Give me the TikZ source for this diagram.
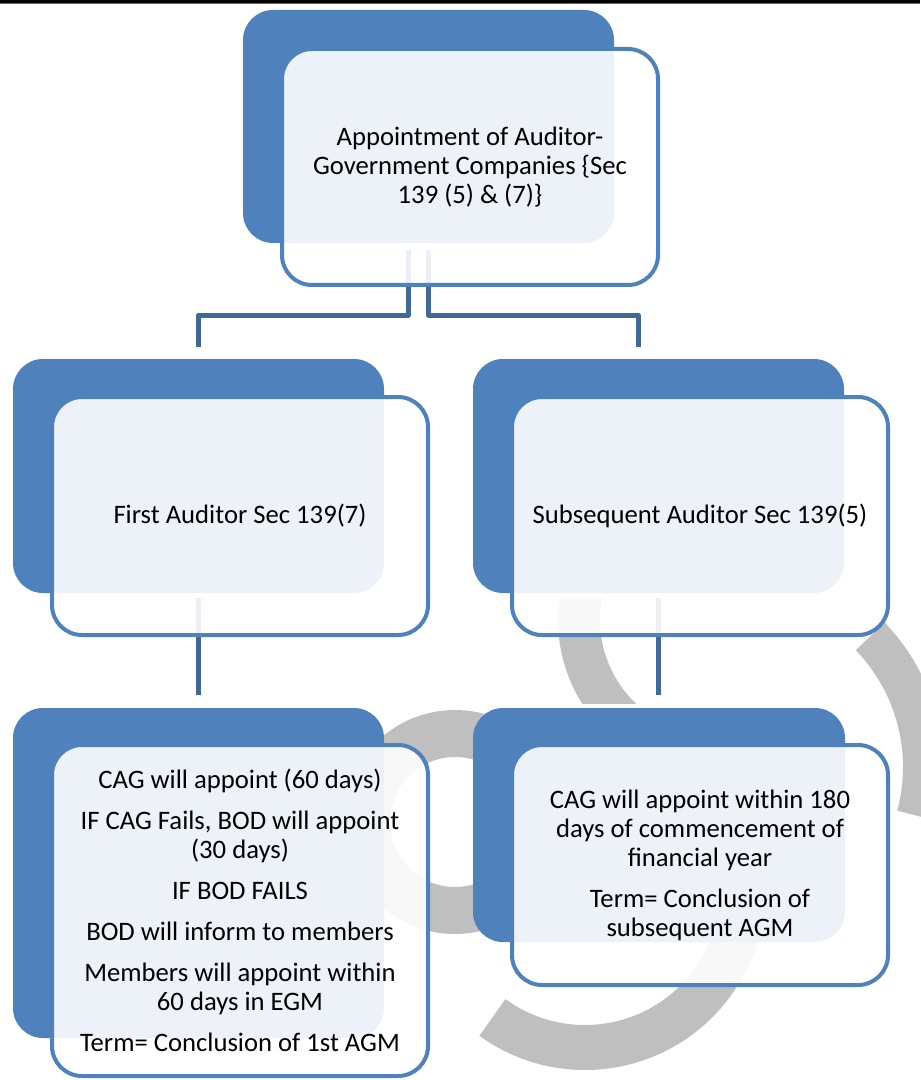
\documentclass[tikz,border=0pt]{standalone}
\usepackage{fontspec}
\setmainfont{Carlito}
\definecolor{accent}{HTML}{4F81BD}
\definecolor{connblue}{HTML}{41689A}
\definecolor{wmgray}{HTML}{BFBFBF}
\begin{document}
\begin{tikzpicture}[x=0.75pt,y=-0.75pt,
  backbox/.style={rectangle, rounded corners=22.5pt, fill=accent,
    inner sep=0pt, outer sep=0pt},
  frontbox/.style={rectangle, rounded corners=22.5pt, draw=accent,
    line width=3pt, fill=white, fill opacity=0.9, text opacity=1,
    inner sep=0pt, outer sep=0pt, align=center,
    font=\fontsize{20}{21.75}\selectfont},
  conn/.style={draw=connblue, line width=3.75pt, line join=round},
  wmband/.style={draw=wmgray, line width=#1}]

\useasboundingbox (0,0) rectangle (920,1080);
\fill[white] (0,0) rectangle (920,1080);

% page rule at the top
\fill[black] (0,0) rectangle (920,3.3);
\fill[black!60] (0,3.3) rectangle (920,4.3);

% grey watermark bands
\begin{scope}
  \clip (0,598) rectangle (920,703);
  \draw[wmband=31.5pt] (715,620) ++(130:136) arc[start angle=130,end angle=200,radius=136];
\end{scope}
\draw[wmband=30pt] (735,767) ++(-44:188) arc[start angle=-44,end angle=15,radius=188];
\draw[wmband=33.75pt] (585,890) ++(126:157.5) arc[start angle=126,end angle=-10,radius=157.5];
\draw[wmband=35.25pt] (455,822) circle[radius=88.5];

% back panels
\node[backbox, minimum width=278.25pt, minimum height=174.75pt] (topback) at (428.5,126.5) {};
\node[backbox, minimum width=278.25pt, minimum height=175.5pt] (midlback) at (198.5,476) {};
\node[backbox, minimum width=278.25pt, minimum height=175.5pt] (midrback) at (658.5,476) {};
\node[backbox, minimum width=278.25pt, minimum height=247.5pt] (botlback) at (198.5,873) {};
\node[backbox, minimum width=279pt, minimum height=175.5pt] (botrback) at (659,825) {};

% connectors
\draw[conn] ([xshift=-15.375pt,yshift=-5.25pt]topback.south) -- ++(0,65)
  -| ([yshift=9pt]midlback.north);
\draw[conn] ([yshift=-5.25pt]topback.south) -- ++(0,65)
  -| ([xshift=-15.375pt,yshift=9pt]midrback.north);
\draw[conn] ([yshift=-3.75pt]midlback.south) -- ([yshift=9.75pt]midlback.south |- botlback.north);
\draw[conn] ([yshift=-3.75pt]midrback.south) -- ([yshift=9.75pt]midrback.south |- botrback.north);

% front panels with text
\node[frontbox, minimum width=282pt, minimum height=177pt] (topfront) at (470,167)
  {Appointment of Auditor-\\Government Companies \{Sec\\139 (5) \& (7)\}};
\node[frontbox, minimum width=282pt, minimum height=178.5pt] (midlfront) at (240,516)
  {First Auditor Sec 139(7)};
\node[frontbox, minimum width=282pt, minimum height=178.5pt] (midrfront) at (700,516)
  {Subsequent Auditor Sec 139(5)};
\node[frontbox, minimum width=282pt, minimum height=248.25pt] (botlfront) at (240,910.5)
  {CAG will appoint (60 days)\\[9pt]
   IF CAG Fails, BOD will appoint\\(30 days)\\[9pt]
   IF BOD FAILS\\[9pt]
   BOD will inform to members\\[9pt]
   Members will appoint within\\60 days in EGM\\[9pt]
   Term= Conclusion of 1st AGM};
\node[frontbox, minimum width=282pt, minimum height=180pt] (botrfront) at (700,865)
  {CAG will appoint within 180\\days of commencement of\\financial year\\[9pt]
   Term= Conclusion of\\subsequent AGM};
\end{tikzpicture}
\end{document}
